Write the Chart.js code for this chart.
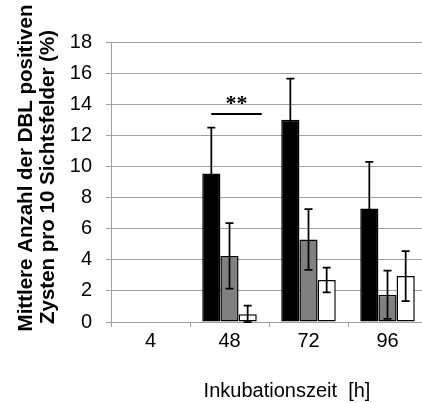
<!DOCTYPE html>
<html>
<head>
<meta charset="utf-8">
<script src="https://cdn.jsdelivr.net/npm/chart.js@4"></script>
<style>
  html, body { margin: 0; padding: 0; background: #fff; overflow: hidden; }
  canvas { display: block; }
</style>
</head>
<body>
<canvas id="myChart" width="432" height="403"></canvas>
<script>
const categories = ['4', '48', '72', '96'];
const yTicks = [0, 2, 4, 6, 8, 10, 12, 14, 16, 18];

// Mittelwerte der drei Gruppen
const blackValues = [0, 9.55, 13.0, 7.3];
const grayValues = [0, 4.25, 5.3, 1.75];
const whiteValues = [0, 0.5, 2.7, 2.95];

// Fehlerbalken (+/-)
const blackErrors = [0, 2.95, 2.65, 3.0];
const grayErrors = [0, 2.1, 1.95, 1.55];
const whiteErrors = [0, 0.55, 0.8, 1.6];

// Signifikanz bei 48 h
const sigCategory = 1;
const sigLevel = 13.35;
const sigLabel = '**';

const yTitleLines = ['Mittlere Anzahl der DBL positiven', 'Zysten pro 10 Sichtsfelder (%)'];
const xTitle = 'Inkubationszeit  [h]';

const gridColor = '#a0a0a0';
const font = '"Liberation Sans", Arial, sans-serif';

// Fehlerbalken über den Balken zeichnen
const errorBars = {
  id: 'errorBars',
  afterDatasetsDraw(chart) {
    const ctx = chart.ctx;
    const y = chart.scales.y;
    ctx.save();
    ctx.strokeStyle = '#000';
    ctx.lineWidth = 1.75;
    chart.data.datasets.forEach((ds, i) => {
      chart.getDatasetMeta(i).data.forEach((bar, j) => {
        const err = ds.errors[j];
        if (!err) return;
        const v = ds.data[j];
        const top = y.getPixelForValue(v + err);
        const bottom = y.getPixelForValue(Math.max(v - err, 0));
        const cap = 4;
        ctx.beginPath();
        ctx.moveTo(bar.x, top);
        ctx.lineTo(bar.x, bottom);
        ctx.moveTo(bar.x - cap, top);
        ctx.lineTo(bar.x + cap, top);
        ctx.moveTo(bar.x - cap, bottom);
        ctx.lineTo(bar.x + cap, bottom);
        ctx.stroke();
      });
    });

    // Signifikanzlinie mit Sternchen
    const first = chart.getDatasetMeta(0).data[sigCategory];
    const last = chart.getDatasetMeta(2).data[sigCategory];
    const ly = Math.round(y.getPixelForValue(sigLevel));
    const x1 = first.x;
    const x2 = last.x + last.width / 2 + 5;
    ctx.lineWidth = 2;
    ctx.beginPath();
    ctx.moveTo(x1, ly);
    ctx.lineTo(x2, ly);
    ctx.stroke();
    ctx.fillStyle = '#000';
    ctx.font = 'bold 22px "Liberation Serif", "Times New Roman", serif';
    ctx.textAlign = 'center';
    ctx.textBaseline = 'alphabetic';
    ctx.fillText(sigLabel, (x1 + x2) / 2, ly - 4);
    ctx.restore();
  }
};

// Achsentitel
const axisTitles = {
  id: 'axisTitles',
  afterDraw(chart) {
    const ctx = chart.ctx;
    ctx.save();
    ctx.fillStyle = '#000';
    ctx.textAlign = 'center';
    ctx.textBaseline = 'alphabetic';
    ctx.font = 'bold 20.5px ' + font;
    [[32, 168], [54, 177]].forEach((p, i) => {
      ctx.save();
      ctx.translate(p[0], p[1]);
      ctx.rotate(-Math.PI / 2);
      ctx.fillText(yTitleLines[i], 0, 0);
      ctx.restore();
    });
    ctx.font = '20px ' + font;
    ctx.fillText(xTitle, 287, 396.5);
    ctx.restore();
  }
};

const ctx = document.getElementById('myChart').getContext('2d');
new Chart(ctx, {
  type: 'bar',
  data: {
    labels: categories,
    datasets: [
      { data: blackValues, errors: blackErrors, backgroundColor: '#000000' },
      { data: grayValues, errors: grayErrors, backgroundColor: '#808080' },
      { data: whiteValues, errors: whiteErrors, backgroundColor: '#ffffff' }
    ].map(ds => Object.assign(ds, {
      borderColor: '#000',
      borderWidth: 1.5,
      borderSkipped: false,
      categoryPercentage: 0.69,
      barPercentage: 1.0
    }))
  },
  options: {
    responsive: false,
    animation: false,
    layout: { padding: { top: 42, right: 5, bottom: 0, left: 0 } },
    plugins: { legend: { display: false }, tooltip: { enabled: false } },
    scales: {
      x: {
        grid: { drawOnChartArea: false, offset: true, tickLength: 5, color: gridColor },
        border: { color: gridColor },
        ticks: { color: '#000', font: { family: font, size: 20 }, padding: 2 },
        afterFit(scale) { scale.height = 81; }
      },
      y: {
        min: 0,
        max: 18,
        afterBuildTicks(scale) { scale.ticks = yTicks.map(v => ({ value: v })); },
        grid: { color: gridColor, tickLength: 5 },
        border: { color: gridColor },
        ticks: { color: '#000', font: { family: font, size: 20 }, padding: 14 },
        afterFit(scale) { scale.width = 111; }
      }
    }
  },
  plugins: [errorBars, axisTitles]
});
</script>
</body>
</html>
